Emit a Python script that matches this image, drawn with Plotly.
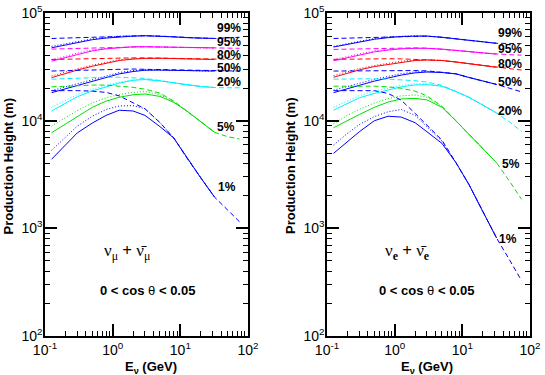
import plotly.graph_objects as go

# ---------------- data ----------------
E_GRID = [0.125, 0.2, 0.3, 0.5, 0.8, 1.25, 2, 3, 5, 8, 12.5, 20, 32, 50, 75]
N = None

# nu_mu + nu_mu-bar panel
MU_99_SOLID = [47500, 50500, 53500, 56500, 58500, 60000, 61000, 61500, 61000, 60000, 59000, 58500, 58000, N, N]
MU_99_DASH = [58000, 58500, 59000, 59500, 60000, 60500, 61000, 61500, 61000, 60000, 59000, 58500, 58000, 58500, 59500]
MU_99_DOT = [49000, 51500, 54500, 57500, 59500, 61000, 61500, 61500, 61000, 60000, 59000, 58500, 58000, N, N]

MU_95_SOLID = [35700, 38500, 41500, 44500, 46500, 47800, 48500, 48600, 48300, 48000, 47500, 47500, 47500, N, N]
MU_95_DASH = [46200, 46500, 47000, 47500, 48000, 48300, 48500, 48600, 48300, 48000, 47500, 47300, 47000, 47000, 47000]
MU_95_DOT = [37000, 39500, 42500, 45500, 47000, 48000, 48500, 48600, 48300, 48000, 47500, 47300, 47000, N, N]

MU_80_SOLID = [25100, 27500, 29500, 32000, 34200, 36200, 37300, 37900, 38000, 37800, 37500, 37200, 37000, N, N]
MU_80_DASH = [37000, 37300, 37500, 37800, 38000, 38200, 38300, 38300, 38100, 37900, 37500, 37200, 37000, 37000, 37000]
MU_80_DOT = [26000, 28300, 30300, 32800, 35000, 36800, 37700, 38000, 38000, 37800, 37500, 37200, 37000, N, N]

MU_50_SOLID = [18200, 19700, 21300, 23300, 25300, 27200, 28600, 29400, 29500, 29300, 29100, 29000, 28900, N, N]
MU_50_DASH = [28900, 29100, 29300, 29600, 29900, 30100, 30200, 30000, 29800, 29500, 29200, 29000, 28900, 28900, 28900]
MU_50_DOT = [19000, 20600, 22200, 24200, 26200, 28000, 29200, 29700, 29600, 29300, 29100, 29000, 28900, N, N]

MU_20_SOLID = [12300, 14600, 16700, 18900, 20700, 22300, 23700, 24100, 23400, 22400, 21500, 20800, 20300, N, N]
MU_20_DASH = [24300, 24600, 24900, 25200, 25300, 25300, 25100, 24700, 23600, 22400, 21500, 20800, 20300, 20200, 20200]
MU_20_DOT = [13300, 15500, 17500, 19600, 21300, 22800, 24000, 24300, 23500, 22400, 21500, 20800, 20300, N, N]

MU_5_SOLID = [7730, 9300, 11000, 13300, 15200, 16500, 17400, 17700, 16800, 14800, 12300, 9800, 7800, N, N]
MU_5_DASH = [20600, 20900, 21200, 21400, 21400, 21000, 20400, 19600, 18000, 15200, 12300, 9800, 7800, 7100, 6750]
MU_5_DOT = [8900, 10600, 12400, 14600, 16300, 17500, 18300, 18600, 17400, 15000, 12300, 9800, 7800, N, N]

MU_1_SOLID = [4380, 5930, 7700, 9500, 11200, 12500, 12300, 11200, 8800, 6900, 4500, 2950, 1950, N, N]
MU_1_DASH = [19000, 19100, 19000, 18800, 18300, 17000, 14800, 12900, 9600, 6900, 4500, 2950, 1950, 1480, 1150]
MU_1_DOT = [5300, 7000, 8900, 11000, 12700, 13700, 13800, 12900, 9600, 6900, 4500, 2950, 1950, N, N]

# nu_e + nu_e-bar panel
E_99_SOLID = [48300, 51000, 54000, 57000, 59000, 60500, 61000, 61000, 59500, 57500, 55500, 53500, 52300, N, N]
E_99_DASH = [58000, 58500, 59000, 59500, 60000, 60500, 61000, 61000, 59500, 57500, 55500, 53500, 52300, 52100, 52000]
E_99_DOT = [49000, 52000, 55000, 58000, 60000, 61000, 61500, 61200, 59500, 57500, 55500, 53500, 52300, N, N]

E_95_SOLID = [36000, 38500, 41000, 43500, 45300, 46500, 47000, 47000, 46200, 45000, 43800, 42500, 41500, N, N]
E_95_DASH = [45900, 46200, 46500, 46900, 47200, 47400, 47400, 47200, 46200, 45000, 43800, 42500, 41500, 41000, 40600]
E_95_DOT = [37000, 39500, 42000, 44500, 46000, 47000, 47300, 47100, 46200, 45000, 43800, 42500, 41500, N, N]

E_80_SOLID = [25300, 27600, 29600, 31800, 33300, 35000, 36200, 36600, 36200, 35100, 33800, 32500, 31300, N, N]
E_80_DASH = [37100, 37300, 37500, 37600, 37600, 37500, 37200, 36800, 36200, 35100, 33800, 32500, 31300, 30300, 29500]
E_80_DOT = [26200, 28500, 30500, 32500, 34000, 35600, 36600, 36900, 36300, 35100, 33800, 32500, 31300, N, N]

E_50_SOLID = [18200, 19800, 21400, 23300, 24900, 26500, 27800, 28300, 28000, 27200, 25200, 23500, 21700, N, N]
E_50_DASH = [28900, 29000, 29100, 29200, 29300, 29300, 29200, 29000, 28300, 27300, 25200, 23500, 21700, 20000, 18500]
E_50_DOT = [19200, 20800, 22400, 24200, 25800, 27300, 28400, 28700, 28200, 27200, 25200, 23500, 21700, N, N]

E_20_SOLID = [12500, 14500, 16300, 17900, 19300, 20600, 21500, 21600, 20900, 18700, 16500, 14000, 11800, N, N]
E_20_DASH = [24300, 24400, 24500, 24500, 24300, 24000, 23500, 22800, 21300, 18700, 16500, 14000, 11800, 9700, 7950]
E_20_DOT = [13300, 15300, 17100, 18800, 20200, 21300, 22000, 22000, 21000, 18700, 16500, 14000, 11800, N, N]

E_5_SOLID = [8600, 10100, 11400, 13300, 14900, 15900, 16100, 15600, 13300, 10000, 7480, 5520, 4070, N, N]
E_5_DASH = [20900, 21000, 21000, 20900, 20600, 20000, 18800, 17000, 13600, 10000, 7480, 5520, 4070, 2730, 1860]
E_5_DOT = [9400, 11200, 12700, 14600, 16000, 17000, 17300, 16500, 13500, 10000, 7480, 5520, 4070, N, N]

E_1_SOLID = [4970, 6370, 7890, 9980, 11000, 10800, 9580, 7890, 6150, 4100, 2560, 1440, 815, N, N]
E_1_DASH = [19000, 19000, 19000, 19000, 17900, 15500, 11700, 9100, 6600, 4100, 2560, 1440, 815, 507, 327]
E_1_DOT = [5930, 7600, 9200, 10900, 12100, 12700, 11200, 8700, 6450, 4100, 2560, 1440, 815, N, N]

PERCENT_LABELS = ["99%", "95%", "80%", "50%", "20%", "5%", "1%"]
COLORS = ["#0000ff", "#ff00ff", "#ff0000", "#0000ff", "#00f0ff", "#00e000", "#0000ff"]

MU_SERIES = [
    (MU_99_SOLID, MU_99_DASH, MU_99_DOT),
    (MU_95_SOLID, MU_95_DASH, MU_95_DOT),
    (MU_80_SOLID, MU_80_DASH, MU_80_DOT),
    (MU_50_SOLID, MU_50_DASH, MU_50_DOT),
    (MU_20_SOLID, MU_20_DASH, MU_20_DOT),
    (MU_5_SOLID, MU_5_DASH, MU_5_DOT),
    (MU_1_SOLID, MU_1_DASH, MU_1_DOT),
]
E_SERIES = [
    (E_99_SOLID, E_99_DASH, E_99_DOT),
    (E_95_SOLID, E_95_DASH, E_95_DOT),
    (E_80_SOLID, E_80_DASH, E_80_DOT),
    (E_50_SOLID, E_50_DASH, E_50_DOT),
    (E_20_SOLID, E_20_DASH, E_20_DOT),
    (E_5_SOLID, E_5_DASH, E_5_DOT),
    (E_1_SOLID, E_1_DASH, E_1_DOT),
]

# label positions (log10 E, log10 H)
MU_LABEL_POS = [(1.72, 4.86), (1.72, 4.73), (1.72, 4.61), (1.72, 4.49), (1.72, 4.36), (1.68, 3.94), (1.69, 3.38)]
E_LABEL_POS = [(1.71, 4.81), (1.71, 4.665), (1.71, 4.526), (1.71, 4.358), (1.71, 4.089), (1.72, 3.597), (1.67, 2.90)]

X_TICKS = [0.1, 1, 10, 100]
X_TICKTEXT = ["10<sup>-1</sup>", "10<sup>0</sup>", "10<sup>1</sup>", "10<sup>2</sup>"]
Y_TICKS = [100, 1000, 10000, 100000]
Y_TICKTEXT = ["10<sup>2</sup>", "10<sup>3</sup>", "10<sup>4</sup>", "10<sup>5</sup>"]

# ---------------- figure ----------------
fig = go.Figure()
FONT = "Liberation Sans, Arial, sans-serif"

for series, xa, ya in [(MU_SERIES, "x", "y"), (E_SERIES, "x2", "y2")]:
    for (solid, dash, dot), col in zip(series, COLORS):
        fig.add_trace(go.Scatter(x=E_GRID, y=dash, mode="lines", xaxis=xa, yaxis=ya,
                                 line=dict(color=col, width=1, dash="5px,3px"), connectgaps=False))
        fig.add_trace(go.Scatter(x=E_GRID, y=dot, mode="lines", xaxis=xa, yaxis=ya,
                                 line=dict(color=col, width=1, dash="1px,2px"), connectgaps=False))
        fig.add_trace(go.Scatter(x=E_GRID, y=solid, mode="lines", xaxis=xa, yaxis=ya,
                                 line=dict(color=col, width=1), connectgaps=False))

minor_x = [m * 10 ** d for d in (-1, 0, 1) for m in range(2, 10)]
minor_y = [m * 10 ** d for d in (2, 3, 4) for m in range(2, 10)]

def xaxis_cfg(domain, anchor):
    return dict(type="log", range=[-1, 2], domain=domain, anchor=anchor, automargin=False,
                showline=True, linecolor="black", linewidth=1.5, mirror="allticks",
                ticks="inside", ticklen=12, tickwidth=1.5, tickcolor="black",
                tickvals=X_TICKS, ticktext=X_TICKTEXT, showgrid=False, zeroline=False,
                tickfont=dict(family=FONT, size=14, color="black"),
                minor=dict(ticks="inside", ticklen=5, tickwidth=1, tickcolor="black",
                           tickvals=minor_x, showgrid=False))

def yaxis_cfg(domain, anchor):
    return dict(type="log", range=[2, 5], domain=domain, anchor=anchor, automargin=False,
                showline=True, linecolor="black", linewidth=1.5, mirror="allticks",
                ticks="inside", ticklen=12, tickwidth=1.5, tickcolor="black",
                tickvals=Y_TICKS, ticktext=Y_TICKTEXT, showgrid=False, zeroline=False,
                ticklabelstandoff=-2,
                tickfont=dict(family=FONT, size=14, color="black"),
                minor=dict(ticks="inside", ticklen=5, tickwidth=1, tickcolor="black",
                           tickvals=minor_y, showgrid=False))

ydom = [39 / 375, 362 / 375]
annotations = []
for labels_pos, xr, yr in [(MU_LABEL_POS, "x", "y"), (E_LABEL_POS, "x2", "y2")]:
    for lab, (lx, ly) in zip(PERCENT_LABELS, labels_pos):
        annotations.append(dict(x=lx, y=ly, xref=xr, yref=yr, text="<b>%s</b>" % lab,
                                xanchor="center", yanchor="middle",
                                showarrow=False, font=dict(family=FONT, size=12, color="black")))

CENTER = dict(xanchor="center", yanchor="middle", showarrow=False)
annotations += [
    dict(x=0.211, y=2.78, xref="x", yref="y", **CENTER,
         text="ν<sub>μ</sub> <b>+</b> ν̄<sub>μ</sub>",
         font=dict(family="Liberation Serif, serif", size=17, color="black")),
    dict(x=0.182, y=2.78, xref="x2", yref="y2", **CENTER,
         text="ν<sub><b>e</b></sub> <b>+</b> ν̄<sub><b>e</b></sub>",
         font=dict(family="Liberation Serif, serif", size=17, color="black")),
    dict(x=0.521, y=2.427, xref="x", yref="y", **CENTER,
         text="<b>0 &lt; cos</b> θ <b>&lt; 0.05</b>",
         font=dict(family=FONT, size=13, color="black")),
    dict(x=0.477, y=2.427, xref="x2", yref="y2", **CENTER,
         text="<b>0 &lt; cos</b> θ <b>&lt; 0.05</b>",
         font=dict(family=FONT, size=13, color="black")),
    dict(x=7.5 / 545, y=1 - 166 / 375, xref="paper", yref="paper", **CENTER,
         text="<b>Production Height (m)</b>", textangle=-90,
         font=dict(family=FONT, size=13, color="black")),
    dict(x=290 / 545, y=1 - 166 / 375, xref="paper", yref="paper", **CENTER,
         text="<b>Production Height (m)</b>", textangle=-90,
         font=dict(family=FONT, size=13, color="black")),
    dict(x=151 / 545, y=1 - 367 / 375, xref="paper", yref="paper", **CENTER,
         text="<b>E<sub>ν</sub> (GeV)</b>",
         font=dict(family=FONT, size=13, color="black")),
    dict(x=427 / 545, y=1 - 367 / 375, xref="paper", yref="paper", **CENTER,
         text="<b>E<sub>ν</sub> (GeV)</b>",
         font=dict(family=FONT, size=13, color="black")),
]

fig.update_layout(
    width=545, height=375,
    margin=dict(l=0, r=0, t=0, b=0, autoexpand=False),
    paper_bgcolor="white", plot_bgcolor="white",
    showlegend=False,
    xaxis=xaxis_cfg([45 / 545, 248 / 545], "y"),
    yaxis=yaxis_cfg(ydom, "x"),
    xaxis2=xaxis_cfg([327 / 545, 530 / 545], "y2"),
    yaxis2=yaxis_cfg(ydom, "x2"),
    annotations=annotations,
)

fig.write_html("out.html", config={"displayModeBar": False},
               post_script="document.body.style.margin='0';")
